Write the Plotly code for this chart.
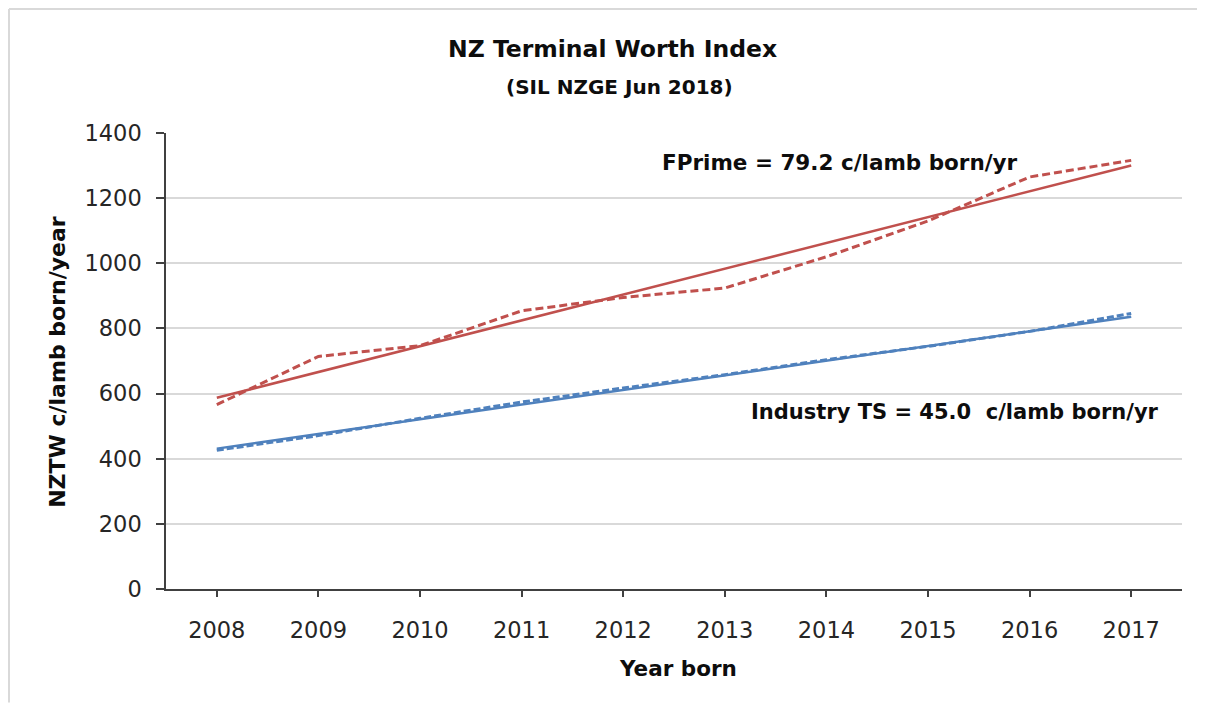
import plotly.graph_objects as go

years = [2008, 2009, 2010, 2011, 2012, 2013, 2014, 2015, 2016, 2017]
fprime = [566, 714, 747, 854, 895, 924, 1020, 1130, 1265, 1316]
industry = [426, 471, 524, 574, 617, 658, 704, 745, 791, 846]
trend_years = [2008, 2017]
fprime_trend = [587, 1300]
industry_trend = [431, 836]

RED = "#C0504D"
BLUE = "#4F81BD"
FONT = "DejaVu Sans"

# page body has an 8px margin; figure pixel = reference pixel - 8
OFF = 8
W, H = 1205 - OFF, 711 - 2 * OFF
L, R, T, B = 166 - OFF, 1182 - OFF, 133 - OFF, 589.4 - OFF

def px(x):
    return (x - OFF - L) / (R - L)

def py(y):
    return (B - (y - OFF)) / (B - T)

fig = go.Figure()
fig.add_trace(go.Scatter(x=trend_years, y=fprime_trend, mode="lines",
                         line=dict(color=RED, width=2.5), showlegend=False))
fig.add_trace(go.Scatter(x=years, y=fprime, mode="lines",
                         line=dict(color=RED, width=3, dash="8px,4px"), showlegend=False))
fig.add_trace(go.Scatter(x=trend_years, y=industry_trend, mode="lines",
                         line=dict(color=BLUE, width=2.5), showlegend=False))
fig.add_trace(go.Scatter(x=years, y=industry, mode="lines",
                         line=dict(color=BLUE, width=3, dash="7px,3px"), showlegend=False))

fig.update_layout(
    width=W, height=H,
    margin=dict(l=L, r=W - R, t=T, b=H - B),
    paper_bgcolor="white", plot_bgcolor="white",
    font=dict(family=FONT, color="#262626"),
    xaxis=dict(range=[2007.5, 2017.5], tickvals=years, ticktext=[str(y) for y in years],
               showgrid=False, zeroline=False, showline=True, linecolor="#404040", linewidth=1.5,
               ticks="outside", ticklen=6, tickcolor="#404040", tickwidth=1.5,
               ticklabelstandoff=14,
               tickfont=dict(size=22.5, family=FONT, color="#262626")),
    yaxis=dict(range=[0, 1400], dtick=200, showgrid=True, gridcolor="#D9D9D9", gridwidth=1.5,
               zeroline=False, showline=True, linecolor="#404040", linewidth=1.5,
               ticks="outside", ticklen=8, tickcolor="#404040", tickwidth=1.5,
               ticklabelstandoff=10,
               tickfont=dict(size=22.5, family=FONT, color="#262626")),
)

ann = [
    dict(text="<b>NZ Terminal Worth Index</b>", x=px(612), y=py(49), size=23.5),
    dict(text="<b>(SIL NZGE Jun 2018)</b>", x=px(619), y=py(87), size=20),
    dict(text="<b>Year born</b>", x=px(678), y=py(669), size=21.5),
]
for a in ann:
    fig.add_annotation(text=a["text"], x=a["x"], y=a["y"], xref="paper", yref="paper",
                       showarrow=False, xanchor="center", yanchor="middle",
                       font=dict(size=a["size"], family=FONT, color="#0d0d0d"))

fig.add_annotation(text="<b>NZTW c/lamb born/year</b>", x=px(58), y=py(362),
                   xref="paper", yref="paper", showarrow=False, textangle=-90,
                   xanchor="center", yanchor="middle",
                   font=dict(size=22, family=FONT, color="#0d0d0d"))

fig.add_annotation(text="<b>FPrime = 79.2 c/lamb born/yr</b>", x=2012.36, y=1309,
                   xref="x", yref="y", showarrow=False, xanchor="left", yanchor="middle",
                   font=dict(size=21.5, family=FONT, color="#0d0d0d"))
fig.add_annotation(text="<b>Industry TS = 45.0&nbsp; c/lamb born/yr</b>", x=2013.24, y=542,
                   xref="x", yref="y", showarrow=False, xanchor="left", yanchor="middle",
                   font=dict(size=21, family=FONT, color="#0d0d0d"))

# light frame lines (top and left edges of the chart area)
fig.add_shape(type="line", xref="paper", yref="paper", x0=px(9), x1=px(1205), y0=py(9), y1=py(9),
              line=dict(color="#D9D9D9", width=2))
fig.add_shape(type="line", xref="paper", yref="paper", x0=px(9), x1=px(9), y0=py(9), y1=py(703),
              line=dict(color="#D9D9D9", width=2))

fig.write_html("out.html")
